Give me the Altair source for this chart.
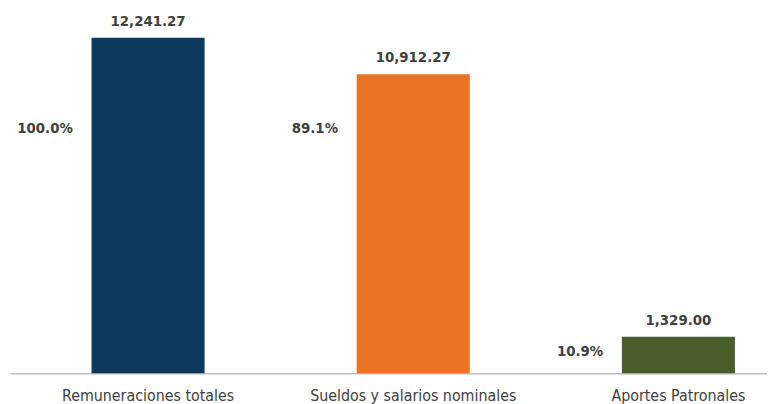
import altair as alt
import pandas as pd

categories = ["Remuneraciones totales", "Sueldos y salarios nominales", "Aportes Patronales"]
values = [12241.27, 10912.27, 1329.00]
value_labels = ["12,241.27", "10,912.27", "1,329.00"]
pct_labels = ["100.0%", "89.1%", "10.9%"]
colors = ["#0B3A5E", "#E87424", "#4A5E2C"]

df = pd.DataFrame({
    "cat": categories,
    "value": values,
    "vlabel": value_labels,
    "plabel": pct_labels,
    "color": colors,
})

xscale = alt.Scale(domain=categories, range=[0, 815], paddingInner=0.5736, paddingOuter=0.3075)
yscale = alt.Scale(domain=[0, 13000])

x = alt.X("cat:N", scale=xscale, sort=categories,
          axis=alt.Axis(title=None, labelAngle=0, ticks=False, grid=False,
                        domainColor="#BFBFBF", domainWidth=1.5,
                        labelFont="Liberation Sans Narrow, DejaVu Sans Condensed, sans-serif",
                        labelFontSize=16, labelColor="#404040", labelPadding=15,
                        labelLimit=400))
x_plain = alt.X("cat:N", scale=xscale, sort=categories)

base = alt.Chart(df)

bars = base.mark_bar().encode(
    x=x,
    y=alt.Y("value:Q", scale=yscale, axis=None),
    color=alt.Color("color:N", scale=None, legend=None),
)

vals = base.mark_text(font="DejaVu Sans", fontWeight="bold", fontSize=13.5,
                      color="#404040", baseline="alphabetic", dy=-12).encode(
    x=x_plain,
    y=alt.Y("value:Q", scale=yscale, axis=None),
    text="vlabel:N",
)

pcts = base.transform_calculate(
    py="min(datum.value, 9470)"
).mark_text(font="DejaVu Sans", fontWeight="bold", fontSize=13.5,
            color="#404040", baseline="middle", align="right", dx=-76, dy=15).encode(
    x=x_plain,
    y=alt.Y("py:Q", scale=yscale, axis=None),
    text="plabel:N",
)

chart = alt.layer(bars, vals, pcts).properties(
    width=765, height=360,
    autosize=alt.AutoSizeParams(type="none"),
    padding={"left": 2, "top": 7, "right": 0, "bottom": 30},
).configure(background="white").configure_view(strokeWidth=0, stroke="transparent")

chart.save("out.html", embed_options={"renderer": "svg", "actions": False})
